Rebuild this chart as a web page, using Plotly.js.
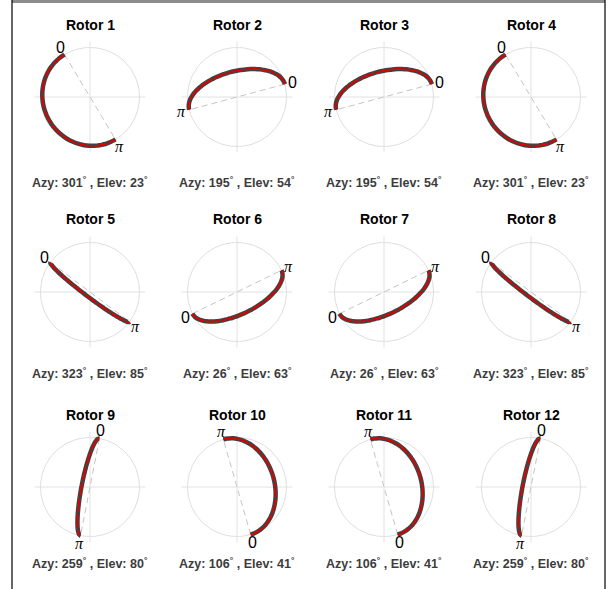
<!DOCTYPE html>
<html>
<head>
<meta charset="utf-8">
<script src="https://cdn.plot.ly/plotly-3.0.1.min.js"></script>
<style>html,body{margin:0;padding:0;background:#fff;}#chart{width:609px;height:589px;}</style>
</head>
<body>
<div id="chart"></div>
<script>
// ---- data ----
const rotorNames = ['Rotor 1','Rotor 2','Rotor 3','Rotor 4','Rotor 5','Rotor 6','Rotor 7','Rotor 8','Rotor 9','Rotor 10','Rotor 11','Rotor 12'];
const azimuthDeg = [301,195,195,301,323,26,26,323,259,106,106,259];
const elevationDeg = [23,54,54,23,85,63,63,85,80,41,41,80];
// direction (deg, counter-clockwise from +x) of the "0" end of each arc
const zeroDirDeg = [121,15,15,121,143,206,206,143,79,286,286,79];
// projected minor/major ratio of each arc
const minorRatio = [0.95,0.52,0.52,0.95,0.10,0.45,0.45,0.10,0.17,0.76,0.76,0.17];

// ---- layout helpers ----
const W = 609, H = 589;
const colCenters = [90, 237, 384, 531];
const rowCenters = [97, 292, 487];
const titleY = [25, 219, 415];
const subY = [182, 373, 563];
const R = 49.5;           // circle radius in px
const span = 1.25;        // axis half-range in data units
const half = span * R;

const traces = [];
const layout = {
  width: W, height: H,
  margin: {l:0, r:0, t:0, b:0},
  paper_bgcolor: '#fff', plot_bgcolor: 'rgba(0,0,0,0)',
  showlegend: false,
  annotations: [],
  shapes: [
    {type:'rect', xref:'paper', yref:'paper', x0:12/W, x1:605/W, y0:1-0/H, y1:1-3/H, fillcolor:'#8c8c8c', line:{width:0}},
    {type:'line', xref:'paper', yref:'paper', x0:12/W, x1:12/W, y0:0, y1:1, line:{color:'#000', width:1.2}},
    {type:'line', xref:'paper', yref:'paper', x0:605/W, x1:605/W, y0:0, y1:1, line:{color:'#000', width:1.2}}
  ]
};

const circT = [];
for (let k = 0; k <= 120; k++) circT.push(2*Math.PI*k/120);

for (let i = 0; i < 12; i++) {
  const col = i % 4, row = Math.floor(i / 4);
  const cx = colCenters[col], cy = rowCenters[row];
  const n = i + 1;
  const xa = n === 1 ? 'xaxis' : 'xaxis' + n;
  const ya = n === 1 ? 'yaxis' : 'yaxis' + n;
  const xr = n === 1 ? 'x' : 'x' + n;
  const yr = n === 1 ? 'y' : 'y' + n;
  layout[xa] = {domain:[(cx-half)/W, (cx+half)/W], range:[-span, span], visible:false, fixedrange:true};
  layout[ya] = {domain:[1-(cy+half)/H, 1-(cy-half)/H], range:[-span, span], visible:false, fixedrange:true};

  // circle
  traces.push({x: circT.map(Math.cos), y: circT.map(Math.sin), xaxis:xr, yaxis:yr, mode:'lines',
    line:{color:'#dedede', width:1}, hoverinfo:'skip'});
  // cross hairs
  traces.push({x:[-1.12,1.12,null,0,0], y:[0,0,null,-1.12,1.12], xaxis:xr, yaxis:yr, mode:'lines',
    line:{color:'#e2e2e2', width:1}, hoverinfo:'skip'});

  const a = zeroDirDeg[i]*Math.PI/180;
  const ux = Math.cos(a), uy = Math.sin(a);
  const vx = -uy, vy = ux;
  // dashed chord from 0 to pi
  traces.push({x:[ux,-ux], y:[uy,-uy], xaxis:xr, yaxis:yr, mode:'lines',
    line:{color:'#c4c4c4', width:1, dash:'6px,4px'}, hoverinfo:'skip'});

  // projected half-circle arc
  const ax = [], ay = [];
  const b = minorRatio[i];
  for (let k = 0; k <= 60; k++) {
    const t = Math.PI*k/60;
    ax.push(Math.cos(t)*ux + b*Math.sin(t)*vx);
    ay.push(Math.cos(t)*uy + b*Math.sin(t)*vy);
  }
  traces.push({x:ax, y:ay, xaxis:xr, yaxis:yr, mode:'lines', line:{color:'rgba(45,45,45,0.9)', width:4.5, shape:'spline'}, hoverinfo:'skip'});
  traces.push({x:ax, y:ay, xaxis:xr, yaxis:yr, mode:'lines', line:{color:'#e00000', width:1.8, dash:'14px,2px', shape:'spline'}, hoverinfo:'skip'});

  // end labels
  const lr = 1.16;
  layout.annotations.push({xref:xr, yref:yr, x:lr*ux, y:lr*uy, text:'0', showarrow:false,
    font:{family:'Liberation Sans, Arial, sans-serif', size:16, color:'#000'}, xanchor:'center', yanchor:'middle'});
  layout.annotations.push({xref:xr, yref:yr, x:-lr*ux, y:-lr*uy, text:'<i>π</i>', showarrow:false,
    font:{family:'Liberation Serif, Times New Roman, serif', size:16, color:'#000'}, xanchor:'center', yanchor:'middle'});

  // title & subtitle
  layout.annotations.push({xref:'paper', yref:'paper', x:cx/W, y:1-titleY[row]/H, text:'<b>'+rotorNames[i]+'</b>',
    showarrow:false, font:{family:'Liberation Sans, Arial, sans-serif', size:14, color:'#000'}, xanchor:'center', yanchor:'middle'});
  layout.annotations.push({xref:'paper', yref:'paper', x:cx/W, y:1-subY[row]/H,
    text:'<b>Azy: '+azimuthDeg[i]+'<sup>°</sup> , Elev: '+elevationDeg[i]+'<sup>°</sup></b>',
    showarrow:false, font:{family:'Liberation Sans, Arial, sans-serif', size:12.5, color:'#3c3c3c'}, xanchor:'center', yanchor:'middle'});
}

Plotly.newPlot('chart', traces, layout, {staticPlot:true, displayModeBar:false});
</script>
</body>
</html>
